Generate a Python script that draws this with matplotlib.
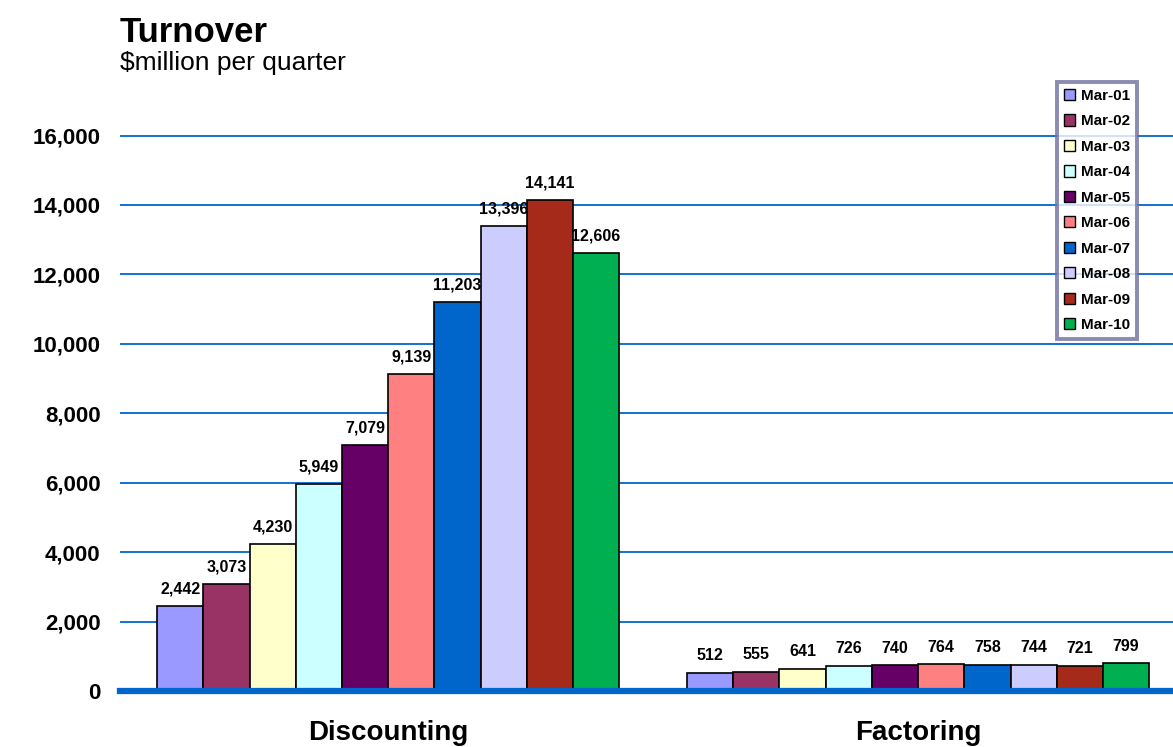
import numpy as np
import matplotlib.pyplot as plt
from matplotlib.patches import Patch

plt.rcParams['font.family'] = ['Liberation Sans', 'DejaVu Sans']

categorias = ['Discounting', 'Factoring']
periodos = ['Mar-01', 'Mar-02', 'Mar-03', 'Mar-04', 'Mar-05',
            'Mar-06', 'Mar-07', 'Mar-08', 'Mar-09', 'Mar-10']
discounting = [2442, 3073, 4230, 5949, 7079, 9139, 11203, 13396, 14141, 12606]
factoring = [512, 555, 641, 726, 740, 764, 758, 744, 721, 799]
colores = ['#9999FF', '#993366', '#FFFFCC', '#CCFFFF', '#660066',
           '#FF8080', '#0066CC', '#CCCCFF', '#A52A1A', '#00B050']

valores = np.array([discounting, factoring])  # filas: categoria, columnas: periodo

fig = plt.figure(figsize=(11.73, 7.47), dpi=100)
ax = fig.add_axes([0.1023, 0.075, 0.8977, 0.79])

x = np.arange(len(categorias))
ancho = 0.0872
n = len(periodos)

for i in range(n):
    pos = x + (i - (n - 1) / 2) * ancho
    barras = ax.bar(pos, valores[:, i], ancho, color=colores[i],
                    edgecolor='black', linewidth=1.2, zorder=3, label=periodos[i])
    for b, v in zip(barras, valores[:, i]):
        ax.annotate(f'{v:,}', (b.get_x() + b.get_width() / 2, v),
                    xytext=(0, 7), textcoords='offset points',
                    ha='center', va='bottom', fontsize=11.5, fontweight='bold')

ax.set_xlim(-0.506, 1.481)
ax.set_ylim(0, 17000)
ax.set_yticks(np.arange(0, 16001, 2000))
ax.set_yticklabels([f'{v:,}' for v in range(0, 16001, 2000)],
                   fontsize=16, fontweight='bold')
ax.set_xticks(x)
ax.set_xticklabels(categorias, fontsize=20, fontweight='bold')
ax.tick_params(axis='y', length=0, pad=14)
ax.tick_params(axis='x', length=0, pad=21)

ax.grid(axis='y', color='#0066CC', linewidth=1.3, zorder=0)
ax.set_axisbelow(True)
for s in ['top', 'right', 'left']:
    ax.spines[s].set_visible(False)
ax.spines['bottom'].set_color('#0066CC')
ax.spines['bottom'].set_linewidth(4.5)
ax.spines['bottom'].set_zorder(4)

fig.text(0.1023, 0.957, 'Turnover', fontsize=25, fontweight='bold', va='center')
fig.text(0.1023, 0.916, '$million per quarter', fontsize=19, va='center')

manejadores = [Patch(facecolor=c, edgecolor='black', linewidth=1) for c in colores]
leg = fig.legend(manejadores, periodos, loc='upper left',
                 bbox_to_anchor=(1057 / 1173, 1 - 82 / 747),
                 prop={'size': 11, 'weight': 'bold'}, frameon=True, fancybox=False,
                 handlelength=0.75, handleheight=0.75, handletextpad=0.4,
                 labelspacing=0.75, borderpad=0.45, borderaxespad=0)
leg.get_frame().set_edgecolor('#6E6EA0')
leg.get_frame().set_linewidth(2.8)

plt.savefig('out.png', dpi=100)
